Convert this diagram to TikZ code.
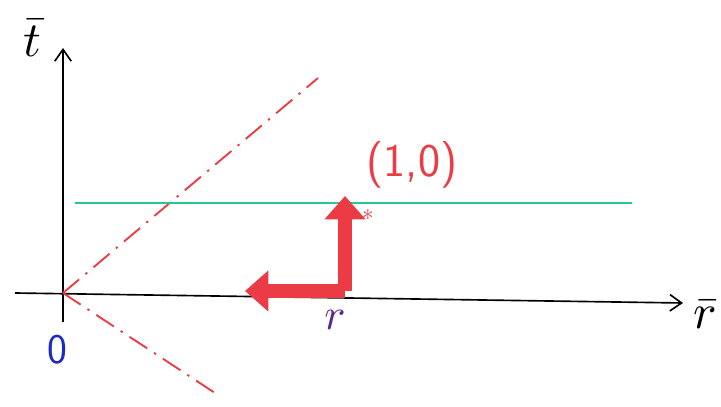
\documentclass[tikz,border=0pt]{standalone}
\usetikzlibrary{arrows.meta}
\definecolor{penred}{RGB}{235,60,70}
\definecolor{pengreen}{RGB}{40,200,140}
\definecolor{penblue}{RGB}{30,40,200}
\definecolor{penpurple}{RGB}{90,40,140}
\tikzset{
  axis/.style={line width=1.4pt,-{Straight Barb[length=10pt,width=14pt]}},
  lightray/.style={penred,line width=1.6pt,dash pattern=on 18pt off 7pt on 2pt off 7pt},
  vecarrow/.style={penred,line width=12pt,-{Triangle[length=20pt,width=34pt]}},
  biglabel/.style={scale=4.2,transform shape,inner sep=0pt}
}
\begin{document}
\begin{tikzpicture}[x=3cm,y=3cm]
    \useasboundingbox (-0.63,-1.13) rectangle (6.58,2.93);
    % axes
    \coordinate (O) at (0,0);
    \coordinate (tbot) at (0,-0.29);
    \coordinate (ttop) at (0,2.45);
    \coordinate (rleft) at (-0.48,0);
    \coordinate (rright) at (6.2,-0.1);
    \draw[axis] (tbot) -- (ttop);
    \draw[axis] (rleft) -- (rright);
    \node[biglabel] (tlabel) at (-0.31,2.55) {$\bar t$};
    \node[biglabel] (rlabel) at (6.42,-0.22) {$\bar r$};
    \node[penblue] (zero) at (-0.06,-0.57) {\fontsize{36}{36}\selectfont\sffamily 0};
    % light cone
    \coordinate (up) at (2.55,2.15);
    \coordinate (down) at (1.52,-1.0);
    \draw[lightray] (O) -- (up);
    \draw[lightray] (O) -- (down);
    % green line
    \coordinate (gl) at (0.12,0.9);
    \coordinate (gr) at (5.69,0.9);
    \draw[pengreen,line width=1.6pt] (gl) -- (gr);
    % red vectors
    \coordinate (P) at (2.82,0.02);
    \coordinate (Pup) at (2.82,0.97);
    \coordinate (Pleft) at (1.82,0.02);
    \draw[vecarrow] (P) -- (Pup);
    \draw[vecarrow] (P) -- (Pleft);
    \node[penred] (pt) at (3.49,1.28) {\fontsize{40}{40}\selectfont\sffamily (1,0)};
    \node[penred,scale=2] (star) at (3.05,0.78) {$\ast$};
    \node[penpurple,biglabel,scale=0.9] (rpt) at (2.72,-0.27) {$r$};
\end{tikzpicture}
\end{document}
